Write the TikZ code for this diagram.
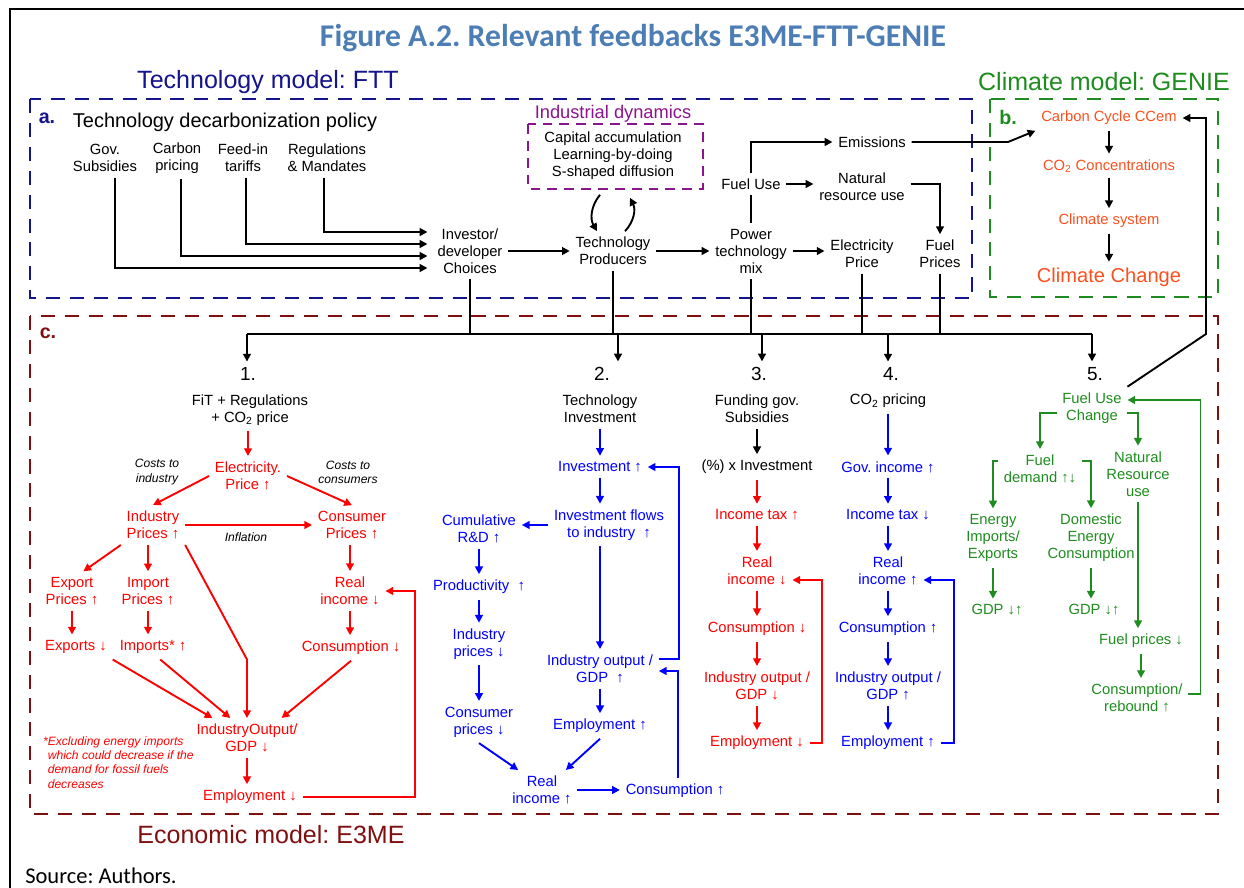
\documentclass[tikz,border=0pt]{standalone}
\usepackage{fontspec}
\setmainfont{Liberation Sans}
\newfontfamily\calfont{Carlito}
\usetikzlibrary{arrows.meta,calc}
\definecolor{cnavy}{RGB}{20,20,140}
\definecolor{cgreen}{RGB}{30,140,30}
\definecolor{cdred}{RGB}{128,15,15}
\definecolor{cpurple}{RGB}{140,20,140}
\definecolor{corange}{RGB}{250,80,30}
\definecolor{cred}{RGB}{255,0,0}
\definecolor{cblue}{RGB}{0,0,255}
\definecolor{ctitle}{RGB}{76,126,181}
\frenchspacing

\begin{document}
\begin{tikzpicture}[x=0.025cm, y=-0.025cm,
    every node/.style={font=\fontsize{10.5}{12.1}\selectfont, align=center, inner sep=4pt},
    note/.style={font=\fontsize{8.6}{10}\selectfont\itshape, inner sep=2pt},
    hdr/.style={font=\fontsize{17.8}{20}\selectfont},
    sec/.style={font=\fontsize{14}{16}\selectfont\bfseries, inner sep=1pt},
    num/.style={font=\fontsize{13.5}{15}\selectfont},
    kline/.style={line width=1.35pt},
    conn/.style={kline, -{Triangle[length=5.5pt,width=5.5pt]}},
    rarr/.style={conn, draw=cred},
    barr/.style={conn, draw=cblue},
    garr/.style={conn, draw=cgreen},
    modelbox/.style={line width=1.6pt, dash pattern=on 10pt off 7pt}]

\useasboundingbox (0,0) rectangle (1244,888);
\draw[line width=1.5pt] (10,888) -- (10,9) -- (1244,9);
\node[font=\calfont\bfseries\fontsize{22.5}{25}\selectfont, text=ctitle] (title) at (633,38) {Figure A.2. Relevant feedbacks E3ME-FTT-GENIE};
\node[font=\calfont\fontsize{16}{18}\selectfont, anchor=west, inner sep=0pt] (source) at (25,876) {Source: Authors.};

\node[hdr, text=cnavy] (fttlbl) at (268,82) {Technology model: FTT};
\node[hdr, text=cgreen] (genielbl) at (1104,82) {Climate model: GENIE};
\node[hdr, text=cdred] (e3melbl) at (271,835) {Economic model: E3ME};

\draw[modelbox, cnavy] (30,99) rectangle (972,298);
\draw[modelbox, cgreen] (990,99) rectangle (1218,297);
\draw[modelbox, cdred] (30,316) rectangle (1218,814);
\draw[cpurple, line width=1.4pt, dash pattern=on 7pt off 5pt] (528,124) rectangle (703,189);

% a. technology model
\node[sec, text=cnavy] (seca) at (47,118) {a.};
\node[font=\fontsize{14.2}{16}\selectfont] (policy) at (225,122) {Technology decarbonization policy};
\node (gov) at (105,158) {Gov.\\Subsidies};
\node (carbonp) at (177,158) {Carbon\\pricing};
\node (feedin) at (243,158) {Feed-in\\tariffs};
\node (regs) at (327,158) {Regulations\\\& Mandates};
\node (invest) at (470,251) {Investor/\\developer\\Choices};
\node (techprod) at (613,251) {Technology\\Producers};
\node (powermix) at (751,251) {Power\\technology\\mix};
\node (elecp) at (862,254) {Electricity\\Price};
\node (fuelp) at (940,254) {Fuel\\Prices};
\node (fueluse) at (751,184) {Fuel Use};
\node (natres) at (862,187) {Natural\\resource use};
\node (emis) at (872,142) {Emissions};
\node[font=\fontsize{13}{15}\selectfont, text=cpurple, inner sep=1pt] (inddyn) at (613,114) {Industrial dynamics};
\node (dynlist) at (613,156) {Capital accumulation\\Learning-by-doing\\S-shaped diffusion};

\draw[conn, shorten >=3pt] (115,0 |- gov.south) |- ($(invest.west)+(0,17)$);
\draw[conn, shorten >=3pt] (181,0 |- carbonp.south) |- ($(invest.west)+(0,5)$);
\draw[conn, shorten >=3pt] (246,0 |- feedin.south) |- ($(invest.west)+(0,-7)$);
\draw[conn, shorten >=3pt] (324,0 |- regs.south) |- ($(invest.west)+(0,-19)$);
\draw[conn] (invest) -- (techprod);
\draw[conn] (techprod) -- (powermix);
\draw[conn] (powermix) -- (powermix -| elecp.west);
\draw[kline] (powermix) -- (fueluse);
\draw[conn] (fueluse) |- (emis);
\draw[conn] (fueluse) -- (fueluse -| natres.west);
\draw[conn] (natres.east |- fueluse) -| (fuelp);
\draw[conn] ($(dynlist.south)+(-13,9)$) to[bend right=35] ($(techprod.north)+(-16,0)$);
\draw[conn] ($(techprod.north)+(12,0)$) to[bend right=35] ($(dynlist.south)+(17,12)$);

% b. climate model
\node[sec, text=cgreen] (secb) at (1008,117) {b.};
\node[text=corange] (carboncyc) at (1109,118) {Carbon Cycle CCem};
\node[text=corange] (co2conc) at (1109,166) {CO\textsubscript{2} Concentrations};
\node[text=corange] (climsys) at (1109,221) {Climate system};
\node[text=corange, font=\fontsize{14.3}{16}\selectfont] (climchg) at (1109,277) {Climate Change};
\draw[conn] (carboncyc) -- (co2conc);
\draw[conn] (co2conc) -- (climsys);
\draw[conn] (climsys) -- (climchg);
\draw[conn] (emis) -- (1008,0 |- emis) -- (carboncyc.south west);

% links into the economic model
\coordinate (busl) at (247,334);
\coordinate (busr) at (1092,334);
\draw[kline] (busl) -- (busr);
\foreach \n in {invest, techprod, powermix, elecp, fuelp}
  \draw[kline] (\n) -- (\n |- busl);

\node[sec, text=cdred] (secc) at (48,333) {c.};
\node[num] (num1) at (248,374) {1.};
\node[num] (num2) at (602,374) {2.};
\node[num] (num3) at (759,374) {3.};
\node[num] (num4) at (891,374) {4.};
\node[num] (num5) at (1095,374) {5.};
\draw[conn] (busl) -- (busl |- num1.north);
\draw[conn] (618,0 |- busl) -- (618,0 |- num2.north);
\draw[conn] (762,0 |- busl) -- (762,0 |- num3.north);
\draw[conn] (888,0 |- busl) -- (888,0 |- num4.north);
\draw[conn] (busr) -- (busr |- num5.north);

% 1.
\node (fitreg) at (250,410) {FiT + Regulations\\+ CO\textsubscript{2} price};
\node[text=cred] (elecpr) at (248,476) {Electricity.\\Price ↑};
\node[note] (costind) at (157,472) {Costs to\\industry};
\node[note] (costcon) at (348,472) {Costs to\\consumers};
\node[text=cred] (indpr) at (153,525) {Industry\\Prices ↑};
\node[text=cred] (conpr) at (352,525) {Consumer\\Prices ↑};
\node[note] (inflation) at (246,537) {Inflation};
\node[text=cred] (exppr) at (72,591) {Export\\Prices ↑};
\node[text=cred] (imppr) at (148,591) {Import\\Prices ↑};
\node[text=cred] (exports) at (76,647) {Exports ↓};
\node[text=cred] (imports) at (153,647) {Imports* ↑};
\node[text=cred] (realinc1) at (350,591) {Real\\income ↓};
\node[text=cred] (consum1) at (351,648) {Consumption ↓};
\node[text=cred] (indout1) at (247,738) {IndustryOutput/\\GDP ↓};
\node[text=cred] (employ1) at (250,797) {Employment ↓};
\node[note, text=cred, align=left, anchor=north west] (footnote) at (40,734) {*Excluding energy imports\\\hphantom{*}which could decrease if the\\\hphantom{*}demand for fossil fuels\\\hphantom{*}decreases};

\draw[rarr] (elecpr |- fitreg.south) -- (elecpr);
\draw[rarr] (elecpr.west) -- (indpr.north);
\draw[rarr] (elecpr.east) -- (conpr.north);
\draw[rarr] (indpr) -- (conpr);
\draw[rarr] (indpr.south west) -- (exppr.60);
\draw[rarr] (imppr |- indpr.south) -- (imppr);
\draw[rarr] (exppr) -- (exppr |- exports.north);
\draw[rarr] (imppr) -- (imppr |- imports.north);
\draw[rarr] (realinc1 |- conpr.south) -- (realinc1);
\draw[rarr] (realinc1) -- (realinc1 |- consum1.north);
\draw[rarr] (indpr.south east) -- (indout1 |- exports.south) -- (indout1);
\draw[rarr] (exports.south east) -- (indout1.150);
\draw[rarr] (imports.-60) -- (indout1.130);
\draw[rarr] (consum1.south) -- (indout1.30);
\draw[rarr] (indout1) -- (indout1 |- employ1.north);
\draw[rarr] (employ1) -- (415,0 |- employ1) |- (realinc1);

% 2.
\node (techinv) at (600,409) {Technology\\Investment};
\node[text=cblue] (invest2) at (600,467) {Investment ↑};
\node[text=cblue] (invflow) at (609,525) {Investment flows\\to industry \ ↑};
\node[text=cblue] (cumrd) at (479,529) {Cumulative\\R\&D ↑};
\node[text=cblue] (product) at (479,587) {Productivity \ ↑};
\node[text=cblue] (indpr2) at (479,644) {Industry\\prices ↓};
\node[text=cblue] (conpr2) at (479,722) {Consumer\\prices ↓};
\node[text=cblue] (indout2) at (600,669) {Industry output /\\GDP \ ↑};
\node[text=cblue] (employ2) at (600,726) {Employment ↑};
\node[text=cblue] (realinc2) at (542,790) {Real\\income ↑};
\node[text=cblue] (consum2) at (675,791) {Consumption ↑};

\draw[barr] (techinv) -- (invest2);
\draw[barr] (invest2) -- (invest2 |- invflow.north);
\draw[barr] (invflow) -- (invflow -| cumrd.east);
\draw[barr] (cumrd) -- (product);
\draw[barr] (product) -- (indpr2);
\draw[barr] (indpr2) -- (conpr2);
\draw[barr] (indout2 |- invflow.south) -- (indout2);
\draw[barr] ($(indout2.east)+(0,-10)$) -- ++(20,0) |- (invest2);
\draw[barr] (678,0 |- consum2.north) |- ($(indout2.east)+(0,2)$);
\draw[barr] (indout2) -- (employ2);
\draw[barr] (conpr2.south) -- (realinc2.140);
\draw[barr] (employ2.south) -- (realinc2.40);
\draw[barr] (realinc2) -- (realinc2 -| consum2.west);

% 3.
\node (fundgov) at (757,409) {Funding gov.\\Subsidies};
\node (pctinv) at (757,467) {(\%) x Investment};
\node[text=cred] (inctax3) at (757,515) {Income tax ↑};
\node[text=cred] (realinc3) at (757,571) {Real\\income ↓};
\node[text=cred] (consum3) at (757,629) {Consumption ↓};
\node[text=cred] (indout3) at (757,686) {Industry output /\\GDP ↓};
\node[text=cred] (employ3) at (757,743) {Employment ↓};

\draw[conn] (fundgov) -- (pctinv);
\foreach \a/\b in {pctinv/inctax3, inctax3/realinc3, realinc3/consum3, consum3/indout3, indout3/employ3}
  \draw[rarr] (\a) -- (\b);
\draw[rarr] (employ3) -- (822,0 |- employ3) |- ($(realinc3.east)+(0,9)$);

% 4.
\node (co2price) at (888,401) {CO\textsubscript{2} pricing};
\node[text=cblue] (govinc) at (888,467) {Gov. income ↑};
\node[text=cblue] (inctax4) at (888,515) {Income tax ↓};
\node[text=cblue] (realinc4) at (888,571) {Real\\income ↑};
\node[text=cblue] (consum4) at (888,629) {Consumption ↑};
\node[text=cblue] (indout4) at (888,686) {Industry output /\\GDP ↑};
\node[text=cblue] (employ4) at (888,743) {Employment ↑};

\foreach \a/\b in {co2price/govinc, govinc/inctax4, inctax4/realinc4, realinc4/consum4, consum4/indout4, indout4/employ4}
  \draw[barr] (\a) -- (\b);
\draw[barr] (employ4) -- (954,0 |- employ4) |- ($(realinc4.east)+(0,9)$);

% 5.
\node[text=cgreen] (fuelchg) at (1092,408) {Fuel Use\\Change};
\node[text=cgreen] (fueldem) at (1040,469) {Fuel\\demand ↑↓};
\node[text=cgreen] (natres5) at (1138,474) {Natural\\Resource\\use};
\node[text=cgreen] (enimp) at (993,538) {Energy\\Imports/\\Exports};
\node[text=cgreen] (domen) at (1091,538) {Domestic\\Energy\\Consumption};
\node[text=cgreen] (gdp5a) at (997,610) {GDP ↓↑};
\node[text=cgreen] (gdp5b) at (1094,610) {GDP ↓↑};
\node[text=cgreen] (fuelpr5) at (1141,641) {Fuel prices ↓};
\node[text=cgreen] (rebound) at (1137,698) {Consumption/\\rebound ↑};

\draw[garr] ($(fuelchg.west)+(0,5)$) -| (fueldem);
\draw[garr] ($(fuelchg.east)+(0,5)$) -| (natres5);
\draw[garr] ($(fueldem.west)+(0,-8)$) -| (enimp);
\draw[garr] ($(fueldem.east)+(0,-8)$) -| (domen);
\draw[garr] (enimp) -- (enimp |- gdp5a.north);
\draw[garr] (domen) -- (domen |- gdp5b.north);
\draw[garr] (natres5) -- (natres5 |- fuelpr5.north);
\draw[garr] (fuelpr5) -- (fuelpr5 |- rebound.north);
\draw[garr] ($(rebound.east)+(0,-4)$) -- ++(12,0) |- ($(fuelchg.east)+(0,-8)$);
\draw[conn] (fuelchg.north east) -- (1206,334) |- (carboncyc);
\end{tikzpicture}
\end{document}
